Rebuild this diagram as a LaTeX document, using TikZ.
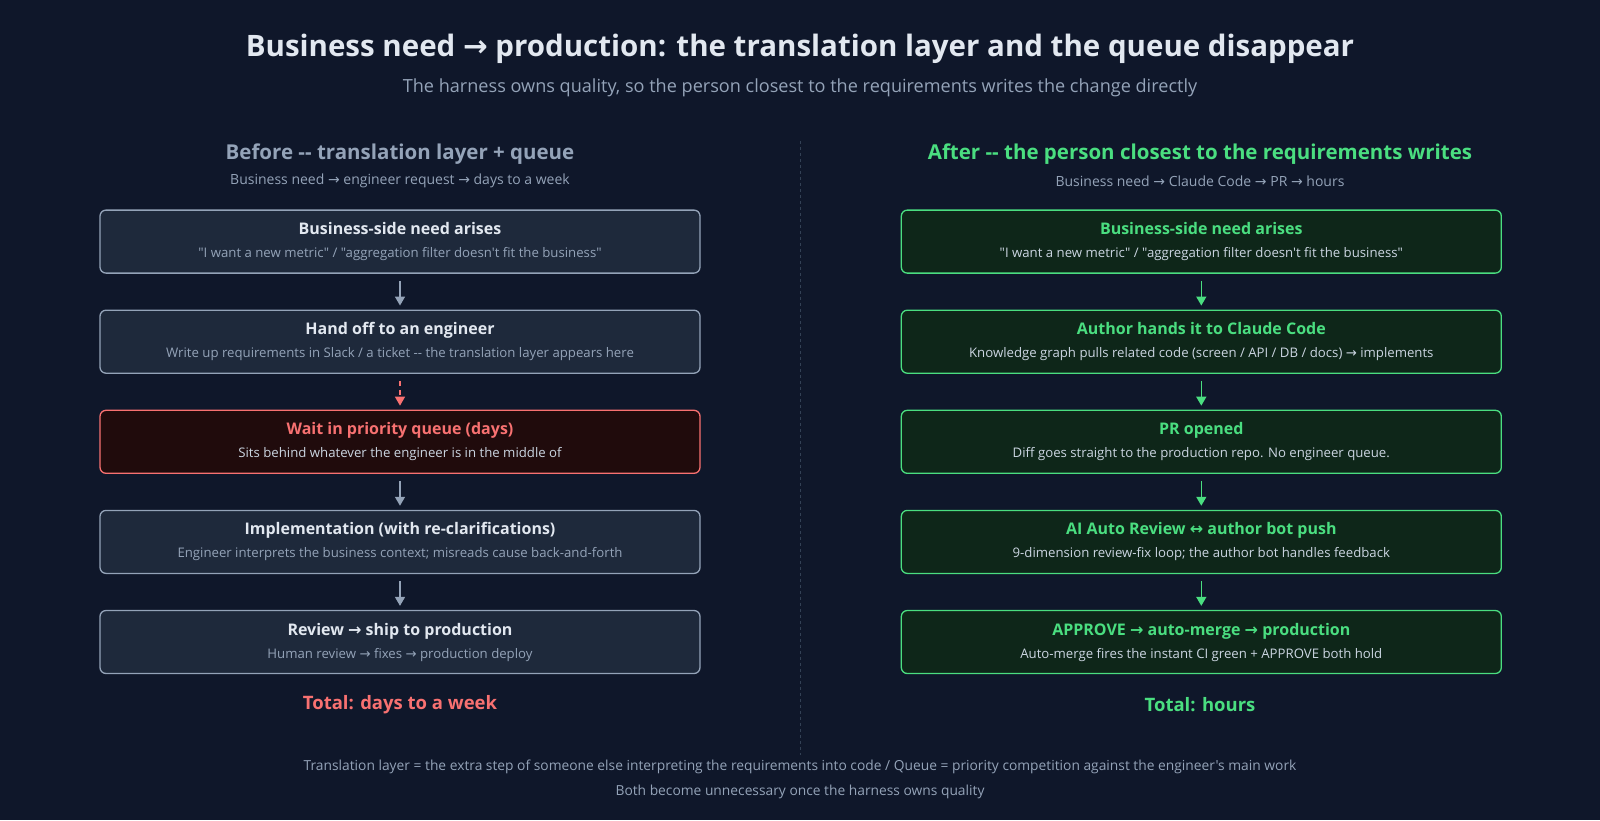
\documentclass[tikz,border=0pt]{standalone}
\usepackage{fontspec}
\setmainfont{Open Sans}[Ligatures=TeXOff]
\newfontfamily\arrowfont{DejaVu Sans}
\usetikzlibrary{arrows.meta,positioning}
\definecolor{bgnavy}{HTML}{0F172A}
\definecolor{boxslate}{HTML}{1E293B}
\definecolor{edgeslate}{HTML}{94A3B8}
\definecolor{textlight}{HTML}{E2E8F0}
\definecolor{textmute}{HTML}{94A3B8}
\definecolor{textsoft}{HTML}{CBD5E1}
\definecolor{queuered}{HTML}{F87171}
\definecolor{queuefill}{HTML}{200B0C}
\definecolor{okgreen}{HTML}{4ADE80}
\definecolor{okfill}{HTML}{0E2619}
\definecolor{divline}{HTML}{334155}
\newcommand{\rarr}{{\arrowfont\char"2192}}
\newcommand{\lrarr}{{\arrowfont\char"2194}}
\newcommand{\detail}[2][textmute]{{\color{#1}\fontsize{13.2}{15}\mdseries\selectfont #2}}

\begin{document}
\begin{tikzpicture}[x=1pt,y=-1pt,
        node distance=35.8pt,
        box/.style={draw,rounded corners=6pt,line width=1.3pt,
                    minimum width=600pt,minimum height=63pt,inner sep=0pt,
                    align=center,font=\fontsize{16}{18}\selectfont\bfseries},
        slatebox/.style={box,fill=boxslate,draw=edgeslate,text=textlight},
        redbox/.style={box,fill=queuefill,draw=queuered,text=queuered},
        greenbox/.style={box,fill=okfill,draw=okgreen,text=okgreen},
        arr/.style={-{Triangle[width=10pt,length=9pt]},line width=1.5pt,
                    shorten <=7pt,shorten >=4pt},
        headline/.style={font=\fontsize{29.5}{34}\selectfont\bfseries,text=textlight},
        subline/.style={font=\fontsize{18.1}{22}\selectfont,text=textmute},
        colhead/.style={font=\fontsize{20.5}{25}\selectfont\bfseries},
        colsub/.style={font=\fontsize{14}{16}\selectfont,text=textmute},
        total/.style={font=\fontsize{18.5}{24}\selectfont\bfseries},
        footnote/.style={font=\fontsize{13.8}{16}\selectfont,text=textmute},
      ]
        \fill[bgnavy] (0,0) rectangle (1600,820);

        % titles
        \node[headline](title) at (800,49){Business need \rarr{} production: the translation layer and the queue disappear};
        \node[subline](subtitle) at (800,88){The harness owns quality, so the person closest to the requirements writes the change directly};

        % divider
        \coordinate (divtop) at (800,141);
        \coordinate (divbot) at (800,755);
        \draw[divline,line width=1pt,dash pattern=on 3pt off 3pt](divtop)--(divbot);

        % before column
        \node[colhead,text=textmute](beforehead) at (400,154){Before -{}- translation layer + queue};
        \node[colsub](beforesub) at (400,181){Business need \rarr{} engineer request \rarr{} days to a week};
        \node[slatebox](bneed) at (400,241.6){Business-side need arises\\[5pt]\detail{"I want a new metric" / "aggregation filter doesn't fit the business"}};
        \node[slatebox,below=of bneed](handoff){Hand off to an engineer\\[5pt]\detail{Write up requirements in Slack / a ticket -{}- the translation layer appears here}};
        \node[redbox,below=of handoff](queue){Wait in priority queue (days)\\[5pt]\detail[textsoft]{Sits behind whatever the engineer is in the middle of}};
        \node[slatebox,below=of queue](impl){Implementation (with re-clarifications)\\[5pt]\detail{Engineer interprets the business context; misreads cause back-and-forth}};
        \node[slatebox,below=of impl](review){Review \rarr{} ship to production\\[5pt]\detail{Human review \rarr{} fixes \rarr{} production deploy}};
        \node[total,text=queuered](beforetotal) at (400,705){Total: days to a week};

        \draw[arr,edgeslate](bneed)--(handoff);
        \draw[arr,queuered,dash pattern=on 5pt off 4pt](handoff)--(queue);
        \draw[arr,edgeslate](queue)--(impl);
        \draw[arr,edgeslate](impl)--(review);

        % after column
        \node[colhead,text=okgreen](afterhead) at (1200,154){After -{}- the person closest to the requirements writes};
        \node[colsub](aftersub) at (1200,181){Business need \rarr{} Claude Code \rarr{} PR \rarr{} hours};
        \node[greenbox,right=200pt of bneed](aneed){Business-side need arises\\[5pt]\detail[textsoft]{"I want a new metric" / "aggregation filter doesn't fit the business"}};
        \node[greenbox,below=of aneed](author){Author hands it to Claude Code\\[5pt]\detail[textsoft]{Knowledge graph pulls related code (screen / API / DB / docs) \rarr{} implements}};
        \node[greenbox,below=of author](propen){PR opened\\[5pt]\detail[textsoft]{Diff goes straight to the production repo. No engineer queue.}};
        \node[greenbox,below=of propen](autoreview){AI Auto Review \lrarr{} author bot push\\[5pt]\detail[textsoft]{9-dimension review-fix loop; the author bot handles feedback}};
        \node[greenbox,below=of autoreview](approve){APPROVE \rarr{} auto-merge \rarr{} production\\[5pt]\detail[textsoft]{Auto-merge fires the instant CI green + APPROVE both hold}};
        \node[total,text=okgreen](aftertotal) at (1200,705){Total: hours};

        \draw[arr,okgreen](aneed)--(author);
        \draw[arr,okgreen](author)--(propen);
        \draw[arr,okgreen](propen)--(autoreview);
        \draw[arr,okgreen](autoreview)--(approve);

        % footer
        \node[footnote](footone) at (800,767){Translation layer = the extra step of someone else interpreting the requirements into code / Queue = priority competition against the engineer's main work};
        \node[footnote](foottwo) at (800,792){Both become unnecessary once the harness owns quality};
      \end{tikzpicture}
\end{document}
